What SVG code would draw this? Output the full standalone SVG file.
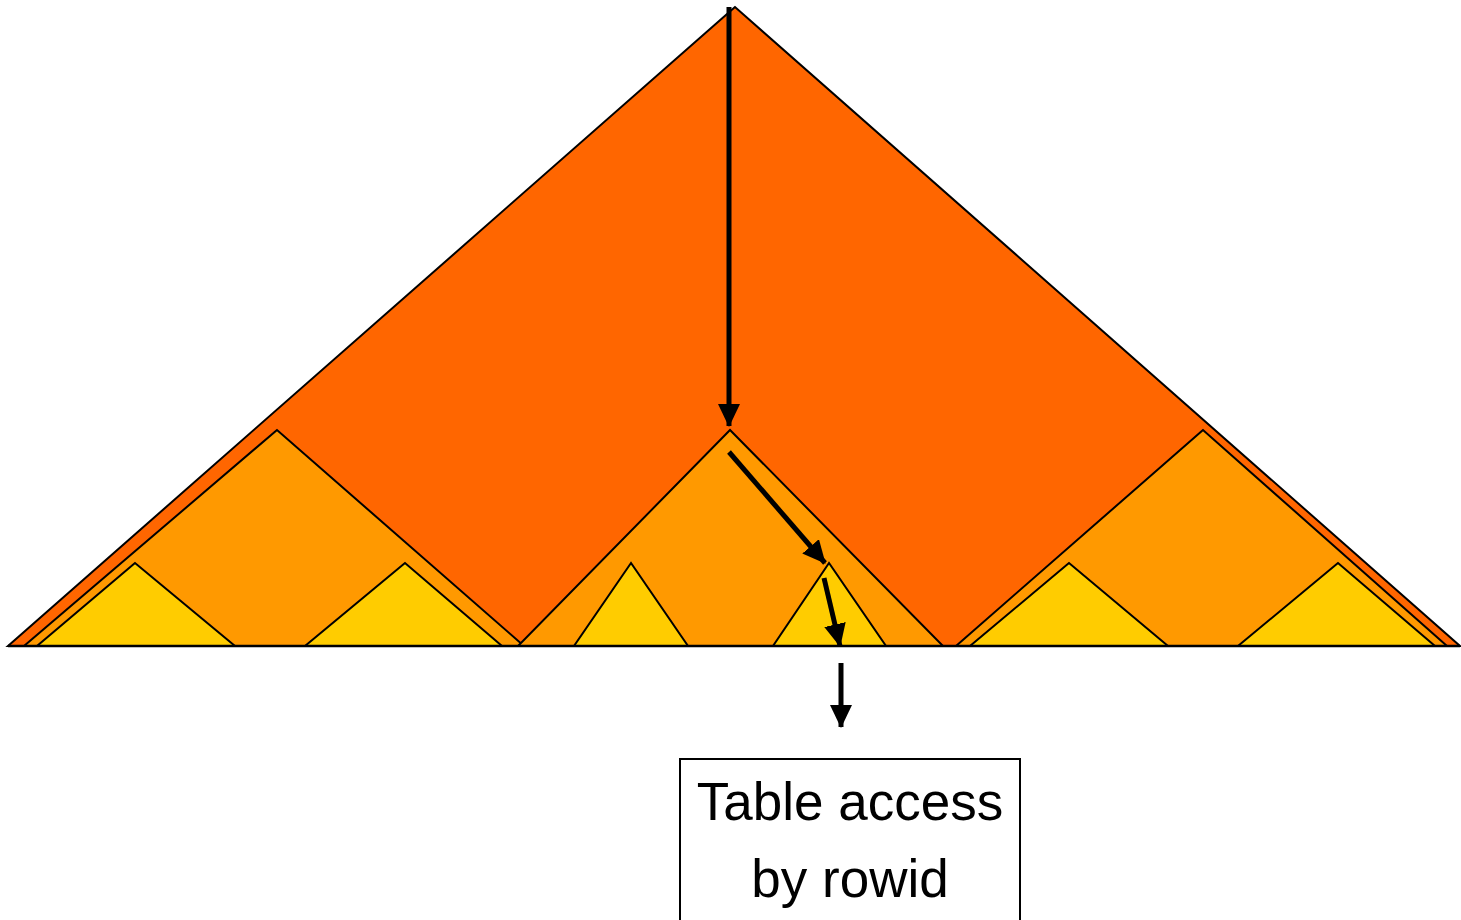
<svg xmlns="http://www.w3.org/2000/svg" width="1461" height="920" viewBox="0 0 1461 920">
<style>
.tri{stroke:#000;stroke-width:2;stroke-linejoin:miter}
.big{fill:#FF6600}
.mid{fill:#FF9900}
.leaf{fill:#FFCC00}
.arr{stroke:#000;stroke-width:5;fill:none}
.lbl{font-family:"Liberation Sans",Arial,sans-serif;font-size:53px;fill:#000;text-anchor:middle}
</style>
<defs>
<marker id="ah" markerUnits="userSpaceOnUse" markerWidth="26" markerHeight="26" refX="22" refY="11" orient="auto">
<path d="M0,0 L23,11 L0,22 Z" fill="#000"/>
</marker>
</defs>
<rect width="1461" height="920" fill="#fff"/>
<g id="root"><polygon class="tri big" points="735,7 8,646 1460,646"/></g>
<g id="branch-left"><polygon class="tri mid" points="277,430 24,646 524,646"/></g>
<g id="branch-right"><polygon class="tri mid" points="1203,430 956,646 1447,646"/></g>
<g id="branch-mid"><polygon class="tri mid" points="730,430 518,646 943,646"/></g>
<g id="leaf-1"><polygon class="tri leaf" points="135,563 37,646 235,646"/></g>
<g id="leaf-2"><polygon class="tri leaf" points="405,563 305,646 502,646"/></g>
<g id="leaf-3"><polygon class="tri leaf" points="631,563 574,646 688,646"/></g>
<g id="leaf-4"><polygon class="tri leaf" points="829,563 773,646 886,646"/></g>
<g id="leaf-5"><polygon class="tri leaf" points="1069,563 970,646 1168,646"/></g>
<g id="leaf-6"><polygon class="tri leaf" points="1338,563 1238,646 1435,646"/></g>
<line x1="8" y1="646" x2="1460" y2="646" stroke="#000" stroke-width="2.5"/>
<g id="connectors">
<line class="arr" x1="729" y1="7" x2="729" y2="426" marker-end="url(#ah)"/>
<line class="arr" x1="729" y1="452" x2="825" y2="563" marker-end="url(#ah)"/>
<line class="arr" x1="824" y1="578" x2="840" y2="646" marker-end="url(#ah)"/>
<line class="arr" x1="841" y1="663" x2="841" y2="727" marker-end="url(#ah)"/>
</g>
<g id="table-access">
<rect x="680" y="759" width="340" height="180" fill="#fff" stroke="#000" stroke-width="2"/>
<text class="lbl" x="850" y="820">Table access</text>
<text class="lbl" x="850" y="897">by rowid</text>
</g>
</svg>
